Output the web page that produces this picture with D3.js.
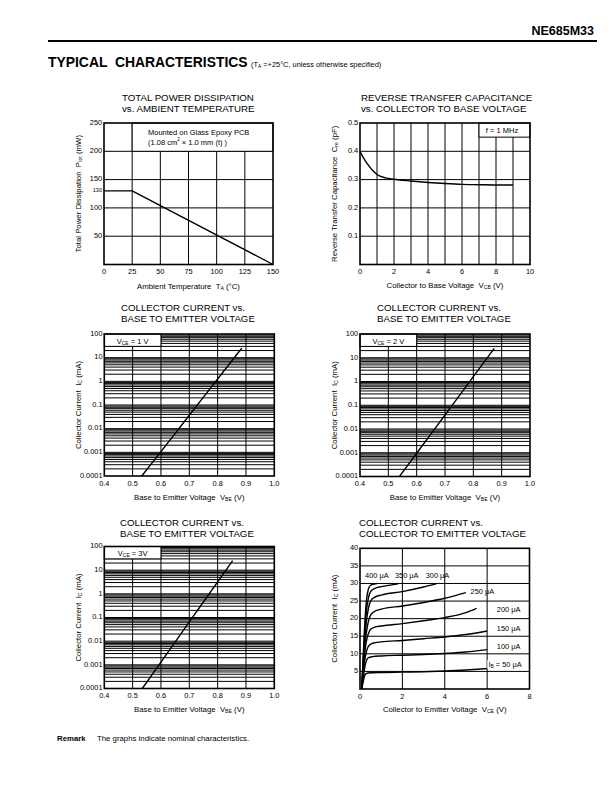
<!DOCTYPE html>
<html><head><meta charset="utf-8">
<script src="https://cdn.jsdelivr.net/npm/d3@7"></script>
<style>
body{margin:0;background:#fff}
svg{display:block}
text{font-family:'Liberation Sans',Arial,Helvetica,sans-serif;fill:#000;white-space:pre}
</style>
</head><body>
<svg id="c" width="612" height="792"></svg>
<script>
// ---------- DATA ----------
// Total power dissipation vs ambient temperature
const pdTemp = [0, 25, 150];
const pdPower = [130, 130, 0];
const pdXTicks = [0, 25, 50, 75, 100, 125, 150];
const pdYTicks = [50, 100, 150, 200, 250];

// Reverse transfer capacitance vs collector-to-base voltage
const crVcb = [0, 0.25, 0.5, 0.75, 1, 1.5, 2, 3, 4, 5, 6, 7, 8, 9];
const crCre = [0.40, 0.372, 0.35, 0.332, 0.318, 0.306, 0.301, 0.295, 0.290, 0.286, 0.283, 0.282, 0.281, 0.281];
const crXTicks = [0, 2, 4, 6, 8, 10];
const crYTicks = [0.1, 0.2, 0.3, 0.4, 0.5];

// Collector current vs base-to-emitter voltage
const vbe1 = [0.532, 0.6, 0.7, 0.8, 0.885];
const ic1 = [0.0001, 0.00107, 0.037, 1.25, 25];
const vbe2 = [0.539, 0.6, 0.7, 0.8, 0.874];
const ic2 = [0.0001, 0.00095, 0.039, 1.6, 25];
const vbe3 = [0.534, 0.6, 0.7, 0.8, 0.853];
const ic3 = [0.0001, 0.0013, 0.065, 3.2, 25.5];
const vbeTicks = [0.4, 0.5, 0.6, 0.7, 0.8, 0.9, 1.0];
const icTicks = [0.0001, 0.001, 0.01, 0.1, 1, 10, 100];
const icTickLabels = ["0.0001", "0.001", "0.01", "0.1", "1", "10", "100"];

// Collector current vs collector-to-emitter voltage (one array per base current)
const ib50  = [[0.08,0],[0.15,2],[0.22,3.8],[0.3,4.4],[0.5,4.6],[1,4.7],[2,4.8],[3,4.9],[4,5.1],[5,5.4],[6,5.8]];
const ib100 = [[0.08,0],[0.15,3],[0.22,6],[0.3,8],[0.4,8.9],[0.6,9.2],[1,9.4],[2,9.6],[3,9.8],[4,10.1],[5,10.5],[6,11.2]];
const ib150 = [[0.08,0],[0.15,4],[0.22,8],[0.3,10.5],[0.4,12.2],[0.6,13],[1,13.4],[2,13.8],[3,14.3],[4,14.8],[5,15.5],[6,16.5]];
const ib200 = [[0.08,0],[0.15,5],[0.22,10],[0.3,13.5],[0.4,15.8],[0.5,17],[0.7,17.6],[1,17.9],[2,18.6],[3,19.4],[4,20.3],[5,21.7],[5.5,22.9]];
const ib250 = [[0.08,0],[0.15,6],[0.22,12],[0.3,16],[0.4,19.3],[0.5,21],[0.7,22.1],[1,22.7],[2,23.6],[3,24.6],[4,25.8],[5,27.4]];
const ib300 = [[0.08,0],[0.15,7],[0.22,14],[0.3,19],[0.4,23],[0.5,25],[0.7,26.1],[1,26.7],[2,27.7],[3,29],[3.6,29.9]];
const ib350 = [[0.08,0],[0.15,8],[0.22,16],[0.3,22],[0.4,26],[0.5,27.7],[0.7,28.6],[1,29.1],[1.5,29.6],[1.8,29.9]];
const ib400 = [[0.08,0],[0.15,9],[0.22,18],[0.3,25],[0.4,28.5],[0.5,29.5],[0.7,29.9],[0.8,30]];
const ibLabels = ["400 μA", "350 μA", "300 μA", "250 μA", "200 μA", "150 μA", "100 μA", "50 μA"];
const vceTicks = [0, 2, 4, 6, 8];
const icLinTicks = [5, 10, 15, 20, 25, 30, 35, 40];

// ---------- DRAWING ----------
const svg = d3.select("#c");
const TICK_FS = 7.4, TITLE_FS = 9.7, AXT_FS = 7.8;

function richText(g, x, y, parts, fs, opts = {}) {
  const t = g.append("text").attr("x", x).attr("y", y).attr("font-size", fs);
  if (opts.anchor) t.attr("text-anchor", opts.anchor);
  if (opts.rotate) t.attr("transform", `rotate(-90,${x},${y})`);
  if (opts.weight) t.attr("font-weight", opts.weight);
  parts.forEach(p => {
    const sp = t.append("tspan").text(p.t);
    if (p.sub) sp.attr("font-size", fs * 0.66).attr("dy", 1);
    else if (p.sup) sp.attr("font-size", fs * 0.62).attr("dy", -3.5);
    else sp.attr("dy", p.back || 0);
  });
  return t;
}

function panel(o) {
  const g = svg.append("g");
  const x = o.x, y = o.y;
  const [x0, x1] = x.range(), [y0, y1] = y.range(); // y0 bottom, y1 top
  g.selectAll(".vg").data(o.vGrid).enter().append("line")
    .attr("x1", d => x(d)).attr("x2", d => x(d)).attr("y1", y0).attr("y2", y1)
    .attr("stroke", "#000").attr("stroke-width", 1);
  g.selectAll(".hg").data(o.hGrid).enter().append("line")
    .attr("x1", x0).attr("x2", x1).attr("y1", d => y(d)).attr("y2", d => y(d))
    .attr("stroke", "#000").attr("stroke-width", 1);
  if (o.box) {
    const b = o.box;
    g.append("rect").attr("x", x(b.x0)).attr("y", y(b.y1))
      .attr("width", x(b.x1) - x(b.x0)).attr("height", y(b.y0) - y(b.y1))
      .attr("fill", "#fff").attr("stroke", "#000").attr("stroke-width", 1);
    b.lines.forEach(l => richText(g, l.x, l.y, l.parts, 7.5, { anchor: l.anchor }));
  }
  o.curves.forEach(c => {
    g.append("path").datum(c)
      .attr("d", d3.line().x(d => x(d[0])).y(d => y(d[1])).curve(o.curveType || d3.curveLinear))
      .attr("fill", "none").attr("stroke", "#000").attr("stroke-width", 1.4)
      .attr("stroke-linejoin", "round");
  });
  g.append("rect").attr("x", x0).attr("y", y1).attr("width", x1 - x0).attr("height", y0 - y1)
    .attr("fill", "none").attr("stroke", "#000").attr("stroke-width", 1.6);
  g.selectAll(".xt").data(o.xTicks).enter().append("text")
    .attr("x", d => x(d)).attr("y", y0 + 9.5).attr("text-anchor", "middle")
    .attr("font-size", TICK_FS).text(o.xFmt);
  g.selectAll(".yt").data(o.yTicks).enter().append("text")
    .attr("x", x0 - 1.8).attr("y", d => y(d) + 1.8).attr("text-anchor", "end")
    .attr("font-size", TICK_FS).text(o.yFmt);
  o.title.forEach((t, i) => g.append("text").attr("x", o.titleX).attr("y", o.titleY + i * 11.2)
    .attr("font-size", TITLE_FS).text(t));
  richText(g, (x0 + x1) / 2, o.xTitleY, o.xTitle, AXT_FS, { anchor: "middle" });
  richText(g, o.yTitleX, (y0 + y1) / 2, o.yTitle, AXT_FS, { anchor: "middle", rotate: true });
  return g;
}

// Header
svg.append("text").attr("x", 594).attr("y", 35).attr("text-anchor", "end")
  .attr("font-size", 12.5).attr("font-weight", "bold").text("NE685M33");
svg.append("line").attr("x1", 48).attr("x2", 597).attr("y1", 41).attr("y2", 41)
  .attr("stroke", "#000").attr("stroke-width", 2);
svg.append("text").attr("x", 48).attr("y", 67).attr("font-size", 13.9).attr("font-weight", "bold")
  .text("TYPICAL  CHARACTERISTICS");
richText(svg, 251, 67, [{ t: "(T" }, { t: "A", sub: true }, { t: " =+25°C, unless otherwise specified)", back: -1 }], 7.4);

// Panel 1: power dissipation
const p1 = panel({
  x: d3.scaleLinear().domain([0, 150]).range([104, 273]),
  y: d3.scaleLinear().domain([0, 250]).range([264.5, 123]),
  vGrid: [25, 50, 75, 100, 125], hGrid: [50, 100, 150, 200],
  box: { x0: 25, x1: 150, y0: 200, y1: 250, lines: [
    { x: 148, y: 134.5, parts: [{ t: "Mounted on Glass Epoxy PCB" }] },
    { x: 148, y: 144.5, parts: [{ t: "(1.08 cm" }, { t: "2", sup: true }, { t: " × 1.0 mm (t) )", back: 3.5 }] }] },
  curves: [pdTemp.map((t, i) => [t, pdPower[i]])],
  xTicks: pdXTicks, yTicks: pdYTicks, xFmt: d => d, yFmt: d => d,
  title: ["TOTAL POWER DISSIPATION", "vs. AMBIENT TEMPERATURE"], titleX: 122, titleY: 101,
  xTitle: [{ t: "Ambient Temperature  T" }, { t: "A", sub: true }, { t: " (°C)", back: -1 }], xTitleY: 289,
  yTitle: [{ t: "Total Power Dissipation  P" }, { t: "tot", sub: true }, { t: " (mW)", back: -1 }], yTitleX: 81
});
{
  const ys = d3.scaleLinear().domain([0, 250]).range([264.5, 123]);
  p1.append("text").attr("x", 102).attr("y", ys(130) + 1.5).attr("text-anchor", "end")
    .attr("font-size", 5.6).text("130");
}

// Panel 2: reverse transfer capacitance
panel({
  x: d3.scaleLinear().domain([0, 10]).range([360, 530]),
  y: d3.scaleLinear().domain([0, 0.5]).range([264.5, 123]),
  vGrid: [1, 2, 3, 4, 5, 6, 7, 8, 9], hGrid: [0.1, 0.2, 0.3, 0.4],
  box: { x0: 7, x1: 10, y0: 0.45, y1: 0.5, lines: [
    { x: 502, y: 133, anchor: "middle", parts: [{ t: "f = 1 MHz" }] }] },
  curves: [crVcb.map((v, i) => [v, crCre[i]])], curveType: d3.curveMonotoneX,
  xTicks: crXTicks, yTicks: crYTicks, xFmt: d => d, yFmt: d => d.toFixed(1),
  title: ["REVERSE TRANSFER CAPACITANCE", "vs. COLLECTOR TO BASE VOLTAGE"], titleX: 361, titleY: 101,
  xTitle: [{ t: "Collector to Base Voltage  V" }, { t: "CB", sub: true }, { t: " (V)", back: -1 }], xTitleY: 288,
  yTitle: [{ t: "Reverse Transfer Capacitance  C" }, { t: "re", sub: true }, { t: " (pF)", back: -1 }], yTitleX: 337
});

const logGrid = [];
[0.0001, 0.001, 0.01, 0.1, 1, 10].forEach(dec => {
  for (let k = 1; k <= 9; k++) logGrid.push(dec * k);
});
const icFmt = d => icTickLabels[icTicks.indexOf(d)];

function icPanel(xr, yr, vbe, ic, vceTxt, titleX, titleY, xTitleY, yTitleX) {
  const xs = d3.scaleLinear().domain([0.4, 1.0]).range(xr);
  panel({
    x: xs,
    y: d3.scaleLog().domain([0.0001, 100]).range(yr),
    vGrid: [0.5, 0.6, 0.7, 0.8, 0.9], hGrid: logGrid.filter(v => v > 0.0001),
    box: { x0: 0.4, x1: 0.6, y0: 30, y1: 100, lines: [
      { x: xs(0.5), y: yr[1] + 9.6, anchor: "middle",
        parts: [{ t: "V" }, { t: "CE", sub: true }, { t: vceTxt, back: -1 }] }] },
    curves: [vbe.map((v, i) => [v, ic[i]])], curveType: d3.curveMonotoneX,
    xTicks: vbeTicks, yTicks: icTicks, xFmt: d => d.toFixed(1), yFmt: icFmt,
    title: ["COLLECTOR CURRENT vs.", "BASE TO EMITTER VOLTAGE"], titleX, titleY,
    xTitle: [{ t: "Base to Emitter Voltage  V" }, { t: "BE", sub: true }, { t: " (V)", back: -1 }], xTitleY,
    yTitle: [{ t: "Collector Current  I" }, { t: "C", sub: true }, { t: " (mA)", back: -1 }], yTitleX
  });
}
icPanel([104.3, 274.3], [476, 334], vbe1, ic1, " = 1 V", 121, 311, 500, 81);
icPanel([360, 530], [476.5, 334], vbe2, ic2, " = 2 V", 377, 311, 500, 337);
icPanel([104.3, 274.3], [688.5, 546.5], vbe3, ic3, " = 3V", 120, 526, 712, 81);

// Panel 6: Ic vs Vce
{
  const xs = d3.scaleLinear().domain([0, 8]).range([360, 529.5]);
  const ys = d3.scaleLinear().domain([0, 40]).range([689, 548.3]);
  const g = panel({
    x: xs, y: ys,
    vGrid: [2, 4, 6], hGrid: [5, 10, 15, 20, 25, 30, 35],
    curves: [ib50, ib100, ib150, ib200, ib250, ib300, ib350, ib400], curveType: d3.curveMonotoneX,
    xTicks: vceTicks, yTicks: icLinTicks, xFmt: d => d, yFmt: d => d,
    title: ["COLLECTOR CURRENT vs.", "COLLECTOR TO EMITTER VOLTAGE"], titleX: 359, titleY: 526,
    xTitle: [{ t: "Collector to Emitter Voltage  V" }, { t: "CE", sub: true }, { t: " (V)", back: -1 }], xTitleY: 712,
    yTitle: [{ t: "Collector Current  I" }, { t: "C", sub: true }, { t: " (mA)", back: -1 }], yTitleX: 337
  });
  const anchors = [[0.24, 31.5], [1.65, 31.5], [3.1, 31.5], [5.22, 27], [6.46, 21.9], [6.46, 16.5], [6.46, 11.4]];
  anchors.forEach((a, i) => {
    g.append("text").attr("x", xs(a[0])).attr("y", ys(a[1])).attr("font-size", 7.4).text(ibLabels[i]);
  });
  const lab = richText(g, xs(6.06), ys(6.3), [{ t: "I" }, { t: "B", sub: true }, { t: " = " + ibLabels[7], back: -1 }], 7.4);
  const bb = lab.node().getBBox();
  g.insert("rect", () => lab.node()).attr("x", bb.x - 1).attr("y", bb.y)
    .attr("width", bb.width + 2).attr("height", bb.height).attr("fill", "#fff");
}

// Remark
svg.append("text").attr("x", 57).attr("y", 741).attr("font-size", 7.8).attr("font-weight", "bold").text("Remark");
svg.append("text").attr("x", 97).attr("y", 741).attr("font-size", 7.8).text("The graphs indicate nominal characteristics.");
</script>
</body></html>
